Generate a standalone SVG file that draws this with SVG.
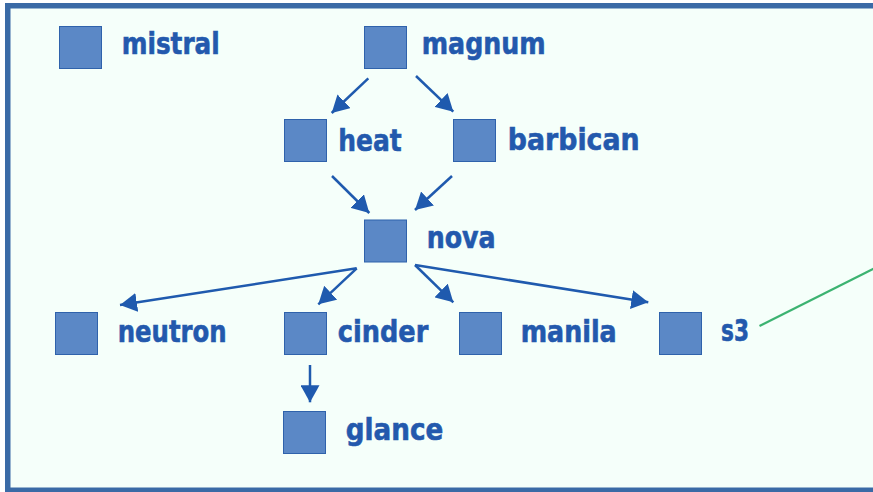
<svg xmlns="http://www.w3.org/2000/svg" width="873" height="492" viewBox="0 0 873 492">
<style>
.frame{fill:#f5fffa;stroke:#3a6aa6;stroke-width:5.5}
.box{fill:#5b88c6;stroke:#2f62ab;stroke-width:1}
.lbl{font-family:"DejaVu Sans","Liberation Sans",sans-serif;font-weight:bold;font-size:30px;fill:#2359ad;stroke:#2359ad;stroke-width:0.6}
.edge{stroke:#1f5aae;stroke-width:2.5;fill:none;marker-end:url(#arr)}
</style>
<defs>
<marker id="arr" viewBox="0 0 17 19" refX="17" refY="9.5" markerWidth="17" markerHeight="19" orient="auto" markerUnits="userSpaceOnUse">
<path d="M0,0 L17,9.5 L0,19 Z" fill="#1f5aae"/>
</marker>
</defs>
<rect class="frame" x="7.75" y="5.75" width="880" height="484.5"/>
<g id="connectors">
<line class="edge" x1="368.3" y1="78.3" x2="331.7" y2="113"/>
<line class="edge" x1="416" y1="76" x2="453.3" y2="111.7"/>
<line class="edge" x1="332" y1="176" x2="369.3" y2="213"/>
<line class="edge" x1="452" y1="176" x2="415" y2="210"/>
<line class="edge" x1="356.7" y1="268.3" x2="120" y2="305"/>
<line class="edge" x1="356.7" y1="268.3" x2="318.3" y2="304.3"/>
<line class="edge" x1="415" y1="265" x2="453.3" y2="302.3"/>
<line class="edge" x1="415" y1="265" x2="648.3" y2="302.3"/>
<line class="edge" x1="310" y1="365" x2="310" y2="402.3"/>
<line x1="759.5" y1="326" x2="875" y2="268" stroke="#3cb371" stroke-width="2.3"/>
</g>
<g id="mistral"><rect class="box" x="59.5" y="26.5" width="42" height="42"/><text class="lbl" x="121.7" y="53.5" textLength="98" lengthAdjust="spacingAndGlyphs">mistral</text></g>
<g id="magnum"><rect class="box" x="364.5" y="26.5" width="42" height="42"/><text class="lbl" x="421.7" y="54" textLength="124" lengthAdjust="spacingAndGlyphs">magnum</text></g>
<g id="heat"><rect class="box" x="284.5" y="119.5" width="42" height="42"/><text class="lbl" x="338.3" y="150.5" textLength="63.4" lengthAdjust="spacingAndGlyphs">heat</text></g>
<g id="barbican"><rect class="box" x="453.5" y="119.5" width="42" height="42"/><text class="lbl" x="507.7" y="150" textLength="132" lengthAdjust="spacingAndGlyphs">barbican</text></g>
<g id="nova"><rect class="box" x="364.5" y="220" width="42" height="42"/><text class="lbl" x="426.7" y="247.5" textLength="69" lengthAdjust="spacingAndGlyphs">nova</text></g>
<g id="neutron"><rect class="box" x="55.5" y="312.5" width="42" height="42"/><text class="lbl" x="117.7" y="341.5" textLength="109" lengthAdjust="spacingAndGlyphs">neutron</text></g>
<g id="cinder"><rect class="box" x="284.5" y="312.5" width="42" height="42"/><text class="lbl" x="337.7" y="341.5" textLength="90.6" lengthAdjust="spacingAndGlyphs">cinder</text></g>
<g id="manila"><rect class="box" x="459.5" y="312.5" width="42" height="42"/><text class="lbl" x="520.7" y="341.5" textLength="96" lengthAdjust="spacingAndGlyphs">manila</text></g>
<g id="s3"><rect class="box" x="659.5" y="312.5" width="42" height="42"/><text class="lbl" x="721" y="340.5" textLength="28" lengthAdjust="spacingAndGlyphs">s3</text></g>
<g id="glance"><rect class="box" x="283.5" y="411.5" width="42" height="42"/><text class="lbl" x="345.7" y="440" textLength="97.6" lengthAdjust="spacingAndGlyphs">glance</text></g>
</svg>
